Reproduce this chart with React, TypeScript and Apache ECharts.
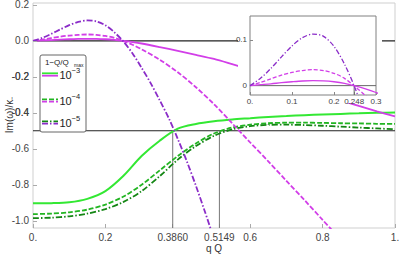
import React, { useEffect, useRef } from "react";
import * as echarts from "echarts";

// ---------- data ----------
const Q_GREEN = [0, 0.05, 0.1, 0.15, 0.2, 0.25, 0.3, 0.35, 0.4, 0.45, 0.5, 0.55, 0.6, 0.65, 0.7, 0.75, 0.8, 0.85, 0.9, 0.95, 1.0];
const GREEN_1E3 = [-0.903, -0.902, -0.897, -0.878, -0.835, -0.75, -0.64, -0.555, -0.488, -0.462, -0.447, -0.437, -0.43, -0.423, -0.418, -0.413, -0.409, -0.406, -0.403, -0.4, -0.398];
const GREEN_1E4 = [-0.963, -0.96, -0.953, -0.938, -0.91, -0.865, -0.8, -0.72, -0.64, -0.57, -0.515, -0.482, -0.466, -0.458, -0.455, -0.455, -0.456, -0.458, -0.459, -0.461, -0.462];
const GREEN_1E5 = [-0.985, -0.983, -0.975, -0.96, -0.935, -0.895, -0.835, -0.752, -0.66, -0.585, -0.528, -0.492, -0.474, -0.467, -0.466, -0.468, -0.472, -0.477, -0.482, -0.487, -0.491];

const Q_MAG_1E3 = [0, 0.025, 0.05, 0.075, 0.1, 0.125, 0.15, 0.175, 0.2, 0.225, 0.25, 0.275, 0.3, 0.35, 0.4, 0.45, 0.5, 0.55, 0.6, 0.65, 0.7, 0.75, 0.8, 0.85, 0.9, 0.95, 1.0];
const MAG_1E3 = [0, 0.002, 0.004, 0.0065, 0.0085, 0.0102, 0.011, 0.0105, 0.0085, 0.005, -0.0005, -0.007, -0.015, -0.035, -0.056, -0.078, -0.101, -0.13, -0.16, -0.192, -0.225, -0.26, -0.295, -0.33, -0.362, -0.392, -0.42];

const Q_MAG_1E4 = [0, 0.025, 0.05, 0.075, 0.1, 0.125, 0.15, 0.175, 0.2, 0.225, 0.25, 0.275, 0.3, 0.35, 0.4, 0.45, 0.5, 0.55, 0.6, 0.65, 0.7, 0.75, 0.8, 0.85];
const MAG_1E4 = [0, 0.007, 0.015, 0.023, 0.029, 0.033, 0.035, 0.033, 0.027, 0.016, -0.002, -0.022, -0.047, -0.105, -0.175, -0.258, -0.352, -0.458, -0.565, -0.67, -0.778, -0.885, -0.995, -1.105];

const Q_MAG_1E5 = [0, 0.025, 0.05, 0.075, 0.1, 0.125, 0.15, 0.175, 0.2, 0.225, 0.25, 0.275, 0.3, 0.325, 0.35, 0.375, 0.4, 0.425, 0.45, 0.475, 0.5];
const MAG_1E5 = [0, 0.016, 0.038, 0.063, 0.087, 0.105, 0.113, 0.108, 0.086, 0.047, -0.005, -0.07, -0.15, -0.235, -0.33, -0.43, -0.545, -0.67, -0.805, -0.95, -1.1];

const REF_LEVEL = -0.5;
const CROSS_Q = [0.386, 0.5149];
const INSET_CROSS = 0.248;

const X_TICKS = [0, 0.2, 0.386, 0.5149, 0.6, 0.8, 1];
const X_TICK_LABELS = ["0.", "0.2", "0.3860", "0.5149", "0.6", "0.8", "1."];
const Y_TICKS = [-1, -0.8, -0.6, -0.4, -0.2, 0, 0.2];
const Y_TICK_LABELS = ["-1.0", "-0.8", "-0.6", "-0.4", "-0.2", "0.0", "0.2"];
const Y_TICKS_MID = [-0.4, -0.2];
const INSET_X_TICKS = [0, 0.1, 0.2, 0.248, 0.3];
const INSET_X_LABELS = ["0.", "0.1", "0.2", "0.248", "0.3"];
const INSET_Y_TICKS = [0, 0.1];
const INSET_Y_LABELS = ["0", "0.1"];

const X_NAME = "q Q";
const Y_NAME = "Im(ω)/κ₋";
const LEGEND_TITLE = "1−Q/Q";
const LEGEND_TITLE_SUB = "max";
const LEGEND_EXP = ["−3", "−4", "−5"];

// ---------- styles ----------
const C_G3 = "#33e833";
const C_G4 = "#22b522";
const C_G5 = "#148614";
const C_M = "#d23ee8";
const C_P = "#8a2cc8";
const DASH = [5, 2];
const DASHDOT = [6, 2, 1.5, 2];
const FONT = "Liberation Sans, Arial, sans-serif";

const zip = (q: number[], v: number[]) => q.map((x, i) => [x, v[i]]);
const lookup = (ticks: number[], labels: string[]) => (v: any) => {
  const n = typeof v === "number" ? v : parseFloat(v);
  const i = ticks.findIndex((t) => Math.abs(t - n) < 1e-6);
  return i >= 0 ? labels[i] : String(v);
};

export default function App() {
  const ref = useRef<HTMLDivElement>(null);
  useEffect(() => {
    if (!ref.current) return;
    const chart = echarts.init(ref.current, undefined, { renderer: "svg" });

    const curve = (name: string, q: number[], v: number[], color: string, width: number, dash: any, grid: number) => ({
      name,
      type: "line",
      xAxisIndex: grid,
      yAxisIndex: grid,
      data: zip(q, v),
      showSymbol: false,
      symbol: "none",
      smooth: 0.3,
      clip: true,
      z: grid === 0 ? 2 : 13,
      lineStyle: { color, width, type: dash },
    });
    const seg = (pts: number[][], color: string, width: number, grid: number, z: number) => ({
      type: "line",
      xAxisIndex: grid,
      yAxisIndex: grid,
      data: pts,
      symbol: "none",
      clip: true,
      z,
      lineStyle: { color, width },
    });

    const lx = 40, ly = 55, lw = 46, lh = 77;
    const entryY = [74.5, 100.5, 122.5];
    const entryStyles = [
      { g: C_G3, m: C_M, dash: "solid" },
      { g: C_G4, m: C_M, dash: DASH },
      { g: C_G5, m: C_P, dash: DASHDOT },
    ];
    const legendEls: any[] = [
      { id: "lbox", type: "rect", z: 20, shape: { x: lx, y: ly, width: lw, height: lh, r: 2 }, style: { fill: "#fff", stroke: "#666", lineWidth: 1 } },
      { id: "ltitle", type: "text", z: 21, x: 45, y: 62.5, style: { text: LEGEND_TITLE, fill: "#222", font: `8px ${FONT}`, verticalAlign: "middle" } },
      { id: "ltitlesub", type: "text", z: 21, x: 74, y: 64.5, style: { text: LEGEND_TITLE_SUB, fill: "#222", font: `5px ${FONT}`, verticalAlign: "middle" } },
    ];
    entryStyles.forEach((s, i) => {
      const y = entryY[i];
      const dash = s.dash === "solid" ? null : s.dash;
      legendEls.push(
        { id: `lg${i}`, type: "line", z: 21, shape: { x1: 42, y1: y - 1.2, x2: 58, y2: y - 1.2 }, style: { stroke: s.g, lineWidth: 1.8, lineDash: dash } },
        { id: `lm${i}`, type: "line", z: 21, shape: { x1: 42, y1: y + 1.2, x2: 58, y2: y + 1.2 }, style: { stroke: s.m, lineWidth: 1.8, lineDash: dash } },
        { id: `lt${i}`, type: "text", z: 21, x: 59.5, y: y + 0.5, style: { text: "10", fill: "#222", font: `11px ${FONT}`, verticalAlign: "middle" } },
        { id: `le${i}`, type: "text", z: 21, x: 71.5, y: y - 4, style: { text: LEGEND_EXP[i], fill: "#222", font: `7.5px ${FONT}`, verticalAlign: "middle" } }
      );
    });

    const midLabel = (i: number, y: number, text: string) => ({
      id: `ylab${i}`, type: "text", z: 30, x: 29, y,
      style: { text, fill: "#444", font: `10px ${FONT}`, textAlign: "right", verticalAlign: "middle" },
    });

    const option: any = {
      animation: false,
      backgroundColor: "#fff",
      textStyle: { fontFamily: FONT },
      grid: [
        { left: 33, top: 3, width: 362, height: 225, show: true, borderColor: "#cfcfcf", borderWidth: 1, backgroundColor: "transparent", containLabel: false, outerBoundsMode: "none" },
        { left: 250, top: 16, width: 126, height: 79, show: true, borderColor: "#808080", borderWidth: 1, backgroundColor: "#fff", z: 11, containLabel: false, outerBoundsMode: "none" },
      ],
      xAxis: [
        {
          gridIndex: 0, type: "value", min: 0, max: 1,
          name: X_NAME, nameLocation: "middle", nameGap: 15, nameMoveOverlap: false,
          nameTextStyle: { color: "#333", fontSize: 10, fontFamily: FONT },
          axisLine: { show: false, onZero: false },
          axisTick: { show: true, inside: true, length: 4, lineStyle: { color: "#aaa" }, customValues: X_TICKS },
          axisLabel: { customValues: X_TICKS, formatter: lookup(X_TICKS, X_TICK_LABELS), color: "#444", fontSize: 10, margin: 4, fontFamily: FONT, hideOverlap: false },
          splitLine: { show: false },
        },
        {
          gridIndex: 1, type: "value", min: 0, max: 0.3, z: 12,
          axisLine: { show: false, onZero: false },
          axisTick: { show: true, inside: true, length: 3, lineStyle: { color: "#888" }, customValues: INSET_X_TICKS },
          axisLabel: { customValues: INSET_X_TICKS, formatter: lookup(INSET_X_TICKS, INSET_X_LABELS), color: "#444", fontSize: 8, margin: 2, fontFamily: FONT, hideOverlap: false },
          splitLine: { show: false },
        },
      ],
      yAxis: [
        {
          gridIndex: 0, type: "value", min: -1.04, max: 0.21, z: 25,
          axisLine: { show: false, onZero: false },
          axisTick: { show: true, inside: true, length: 4, lineStyle: { color: "#aaa" }, customValues: Y_TICKS },
          axisLabel: { show: true, customValues: Y_TICKS, formatter: lookup(Y_TICKS, Y_TICK_LABELS), color: "#444", fontSize: 10, margin: 4, fontFamily: FONT, hideOverlap: false },
          splitLine: { show: false },
        },
        {
          gridIndex: 1, type: "value", min: -0.0205, max: 0.1525, z: 12,
          axisLine: { show: false, onZero: false },
          axisTick: { show: true, inside: true, length: 3, lineStyle: { color: "#888" }, customValues: INSET_Y_TICKS },
          axisLabel: { customValues: INSET_Y_TICKS, formatter: lookup(INSET_Y_TICKS, INSET_Y_LABELS), color: "#444", fontSize: 8, margin: 3, fontFamily: FONT, hideOverlap: false },
          splitLine: { show: false },
        },
      ],
      graphic: [
        { id: "insetbg", type: "rect", z: 10, shape: { x: 238, y: 8, width: 144, height: 95 }, style: { fill: "#fff" } },
        { id: "yname", type: "text", z: 5, x: 9, y: 115, rotation: Math.PI / 2, style: { text: Y_NAME, fill: "#333", font: `10px ${FONT}`, textAlign: "center", verticalAlign: "middle" } },
        ...legendEls,
        midLabel(0, -100, ""),
        midLabel(1, -100, ""),
      ],
      series: [
        seg([[0, 0], [1, 0]], "#222", 1.2, 0, 1),
        seg([[0, REF_LEVEL], [1, REF_LEVEL]], "#222", 1.1, 0, 1),
        ...CROSS_Q.map((q) => seg([[q, REF_LEVEL], [q, -1.04]], "#777", 1, 0, 1)),
        curve("g3", Q_GREEN, GREEN_1E3, C_G3, 2, "solid", 0),
        curve("g4", Q_GREEN, GREEN_1E4, C_G4, 1.8, DASH, 0),
        curve("g5", Q_GREEN, GREEN_1E5, C_G5, 1.8, DASHDOT, 0),
        curve("m3", Q_MAG_1E3, MAG_1E3, C_M, 1.8, "solid", 0),
        curve("m4", Q_MAG_1E4, MAG_1E4, C_M, 1.8, DASH, 0),
        curve("m5", Q_MAG_1E5, MAG_1E5, C_P, 1.8, DASHDOT, 0),
        seg([[0, 0], [0.3, 0]], "#666", 1, 1, 12),
        seg([[INSET_CROSS, 0], [INSET_CROSS, -0.0205]], "#666", 1, 1, 12),
        curve("m3i", Q_MAG_1E3, MAG_1E3, C_M, 1.3, "solid", 1),
        curve("m4i", Q_MAG_1E4, MAG_1E4, C_M, 1.3, [4, 2], 1),
        curve("m5i", Q_MAG_1E5, MAG_1E5, C_P, 1.3, [5, 2, 1.2, 2], 1),
      ],
    };
    chart.setOption(option);

    // labels for the two mid ticks, placed through the axis scale
    const fmt = lookup(Y_TICKS, Y_TICK_LABELS);
    const mids = Y_TICKS_MID.map((v, i) => {
      const py = chart.convertToPixel({ yAxisIndex: 0 } as any, v) as unknown as number;
      return midLabel(i, py, fmt(v));
    });
    chart.setOption({ graphic: mids });

    return () => chart.dispose();
  }, []);
  return <div ref={ref} style={{ width: 399, height: 254, position: "absolute", left: 0, top: 0 }} />;
}
